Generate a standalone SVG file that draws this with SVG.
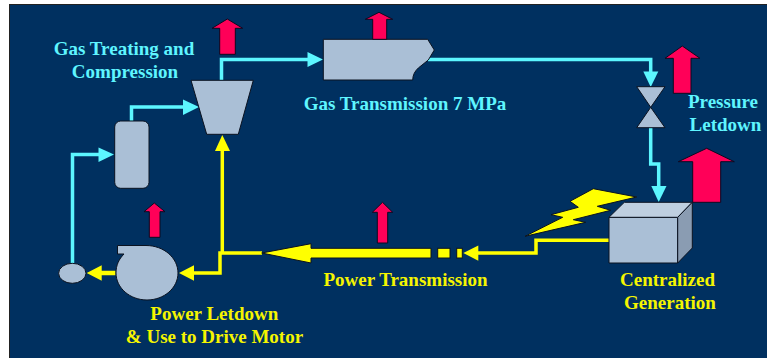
<svg xmlns="http://www.w3.org/2000/svg" width="767" height="358" viewBox="0 0 767 358">
<style>
.lbl{font-family:"Liberation Serif",serif;font-weight:bold;font-size:19px;text-anchor:middle}
.c{fill:#5ff5ff}.y{fill:#f5f500}
.eq{fill:#aabfd6;stroke:#0a1220;stroke-width:1}
.hot{fill:#ff0058;stroke:#0a0a20;stroke-width:1}
.cl{fill:none;stroke:#5cf6ff;stroke-width:3.5}
.yl{fill:none;stroke:#ffff00;stroke-width:3.5}
.ca{fill:#5cf6ff}.ya{fill:#ffff00}
.ye{fill:#ffff00;stroke:#0a1220;stroke-width:1}
</style>
<rect x="0" y="0" width="767" height="358" fill="#ffffff"/>
<rect x="9.500" y="4.500" width="758" height="354" fill="#003060" stroke="#222" stroke-width="1"/>
<g id="connectors">
<path class="cl" d="M72.500 263V154.500H100"/><path class="ca" d="M98.500 147.500L114 154.500L98.500 162Z"/>
<path class="cl" d="M131.500 121V107H185"/><path class="ca" d="M183 99.500L199 107L183 115Z"/>
<path class="cl" d="M221.500 80V59.500H310"/><path class="ca" d="M307.500 52L323 59.500L307.500 67Z"/>
<path class="cl" d="M428 59.500H650.700V75"/><path class="ca" d="M643.300 71.500L650.700 87L658.300 71.500Z"/>
<path class="cl" d="M650.700 127V164H658.700V190"/><path class="ca" d="M651.300 186L658.700 202L666.500 186Z"/>
<path class="yl" d="M222.300 145V253"/><path class="ya" d="M215 151L222.300 135L230 151Z"/>
<path class="yl" d="M193 273H220V253H262"/><path class="ya" d="M194 265.300L179 273L194 280.700Z"/>
<path class="ya" d="M101.700 265.300L86.700 273L101.700 280.700V275.300H115.500V270.700H101.700Z"/>
<path class="yl" d="M609 240.300H536V253H474"/><path class="ya" d="M478.300 245.500L463.300 253L478.300 260.700Z"/>
<path class="ye" d="M261.700 253L311 243.700V248.300H431V258H311V263Z"/>
<rect class="ye" x="437.700" y="248.300" width="12.300" height="9.700"/>
<rect class="ye" x="456.700" y="248.300" width="5.600" height="9.700"/>
</g>
<g id="gas-treating">
<path class="eq" d="M191 80.300H253.300L238.300 134.300H206.700Z"/>
<path class="hot" d="M227.300 19L242.700 28.300H235.300V54.300H219.700V28.300H212Z"/>
<text class="lbl c" x="124" y="55">Gas Treating and</text>
<text class="lbl c" x="125" y="78">Compression</text>
</g>
<g id="separator"><rect class="eq" x="114.700" y="121" width="34.300" height="67.300" rx="6"/></g>
<g id="gas-transmission">
<path class="eq" d="M323.300 39.300H427.700L434.300 50L428.300 60L418.300 68C415 71 412.700 75 412.700 80H323.300Z"/>
<path class="hot" d="M379 12.300L392.700 19.300H386.700V39.300H372.700V19.300H365.300Z"/>
<text class="lbl c" x="405" y="110">Gas Transmission 7 MPa</text>
</g>
<g id="pressure-letdown">
<path class="eq" d="M636.700 86.700H665L650.700 107.300Z"/><path class="eq" d="M650.700 107.300L665 127.700H636.700Z"/>
<path class="hot" d="M682.300 46L700 58.300H691V93.300H673.300V58.300H665Z"/>
<text class="lbl c" x="723" y="107.500">Pressure</text>
<text class="lbl c" x="725.500" y="130.500">Letdown</text>
</g>
<g id="centralized-generation">
<path class="eq" d="M609 217.300H677.700V263H609Z"/>
<path d="M609 217.300L624.300 202.300H692.300L677.700 217.300Z" fill="#bfcfe0" stroke="#0a1220"/>
<path d="M677.700 217.300L692.300 202.300V248L677.700 263Z" fill="#8a9cb2" stroke="#0a1220"/>
<path class="hot" d="M706.700 148.300L734.300 161.700H720.700V202.300H692.700V161.700H678.300Z"/>
<path class="ye" d="M525 236.300L562.700 217.300L551 214.700L578.300 207.300L570 201.300L593.300 188.700L636.700 197L597.300 206.300L610.700 210.300L573.300 219.700L585.700 222.300Z"/>
<text class="lbl y" x="667.500" y="285.700">Centralized</text>
<text class="lbl y" x="670" y="308.700">Generation</text>
</g>
<g id="power-transmission">
<path class="hot" d="M382.500 202.300L392.700 212.300H387.700V243H377.300V212.300H372.300Z"/>
<text class="lbl y" x="405.500" y="285.700">Power Transmission</text>
</g>
<g id="power-letdown">
<path class="eq" d="M117.500 245.500H146C164 245.500 178 258 178 273C178 288 164 300 147 300C130 300 116 288 116 273C116 265 119 259 124 254H117.500Z"/>
<path class="hot" d="M154.300 203L165 211.700H160V237.300H149.300V211.700H144Z"/>
<text class="lbl y" x="214.300" y="319.700">Power Letdown</text>
<text class="lbl y" x="214.500" y="343">&amp; Use to Drive Motor</text>
</g>
<g id="motor"><ellipse class="eq" cx="72.300" cy="273.300" rx="13.700" ry="10"/></g>
</svg>
